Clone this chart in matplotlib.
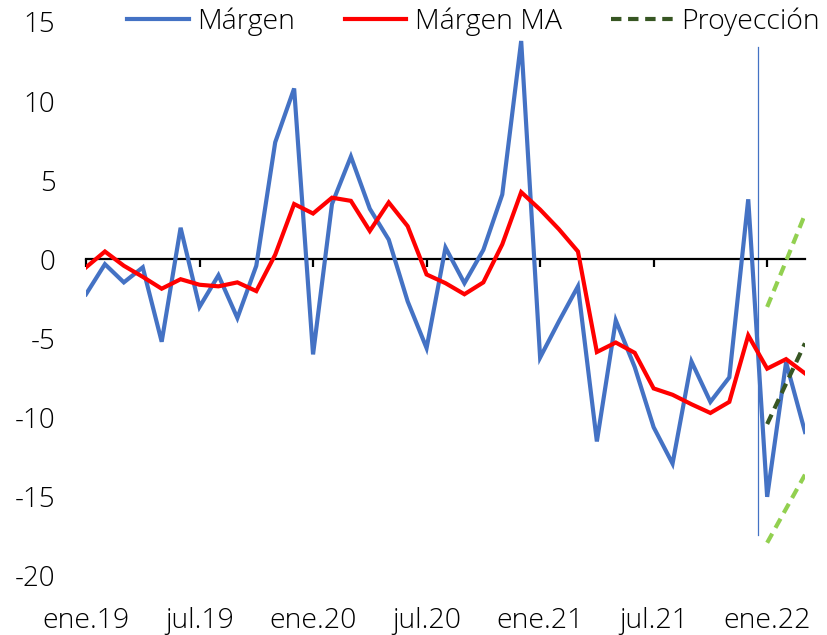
import matplotlib
matplotlib.use("Agg")
import matplotlib.pyplot as plt
import numpy as np

plt.rcParams['font.family'] = ['Open Sans', 'DejaVu Sans']
plt.rcParams['font.weight'] = 'light'

# Monthly data, ene.19 .. mar.22
margen = [-2.2, -0.3, -1.45, -0.5, -5.2, 2.0, -3.0, -1.0, -3.7, -0.4,
          7.4, 10.8, -6.0, 3.5, 6.5, 3.2, 1.25, -2.65, -5.6, 0.75,
          -1.5, 0.6, 4.1, 13.8, -6.2, -3.9, -1.7, -11.5, -3.85, -6.8,
          -10.6, -12.9, -6.45, -9.0, -7.45, 3.8, -15.0, -6.5, -10.9]
margen_ma = [-0.5, 0.5, -0.4, -1.1, -1.85, -1.25, -1.6, -1.7, -1.45, -2.0,
             0.3, 3.5, 2.9, 3.9, 3.7, 1.8, 3.6, 2.1, -0.95, -1.5,
             -2.2, -1.45, 0.95, 4.25, 3.15, 1.9, 0.5, -5.85, -5.25, -5.9,
             -8.15, -8.55, -9.15, -9.7, -9.0, -4.8, -6.9, -6.3, -7.2]
proj_idx = [36, 37, 38]
proyeccion = [-10.4, -7.85, -5.3]
proy_sup = [-3.0, -0.1, 2.85]
proy_inf = [-17.9, -15.75, -13.6]
vline_x = [35.5, 35.5]
vline_y = [13.4, -17.4]
tick_labels = ['ene.19', 'jul.19', 'ene.20', 'jul.20', 'ene.21', 'jul.21', 'ene.22']
y_ticks = [15, 10, 5, 0, -5, -10, -15, -20]

fig = plt.figure(figsize=(8.27, 6.35), dpi=100)
ax = fig.add_axes([86/827, 1-576/635, (805-86)/827, (576-22)/635])

x = np.arange(len(margen))
fs = 20
l1, = ax.plot(x, margen, color='#4472C4', lw=3, label='Márgen', solid_joinstyle='miter', zorder=3)
l2, = ax.plot(x, margen_ma, color='#FF0000', lw=3, label='Márgen MA', solid_joinstyle='miter', zorder=4)
l3, = ax.plot(proj_idx, proyeccion, color='#375623', lw=3, ls=(0, (2.5, 1.6)), label='Proyección', zorder=5)
ax.plot(proj_idx, proy_sup, color='#92D050', lw=3, ls=(0, (2.5, 1.6)), zorder=5)
ax.plot(proj_idx, proy_inf, color='#92D050', lw=3, ls=(0, (2.5, 1.6)), zorder=5)
ax.plot(vline_x, vline_y, color='#4472C4', lw=0.9, zorder=2)

ax.set_xlim(0, 38)
ax.set_ylim(-20, 15)
ax.set_yticks(y_ticks)
ax.set_yticklabels([str(v) for v in y_ticks])
ax.tick_params(axis='y', length=0, pad=22, labelsize=fs)

for s in ['top', 'right', 'left']:
    ax.spines[s].set_visible(False)
ax.spines['bottom'].set_position(('data', 0))
ax.spines['bottom'].set_linewidth(1.6)
ax.spines['bottom'].set_zorder(2.5)
ax.set_xticks(np.arange(0, 37, 6))
ax.tick_params(axis='x', direction='out', length=6, width=1.6, labelbottom=False)

sec = ax.secondary_xaxis(location=0)
sec.set_xticks(np.arange(0, 37, 6))
sec.set_xticklabels(tick_labels)
sec.tick_params(axis='x', length=0, pad=22, labelsize=20.5)
sec.spines['bottom'].set_visible(False)

fig.legend(handles=[l1, l2, l3], loc='center', bbox_to_anchor=(473.5/827, 1-22/635),
           ncol=3, frameon=False, fontsize=20.5, handlelength=2.15, handletextpad=0.3,
           columnspacing=1.75, borderpad=0)

fig.savefig('out.png', dpi=100)
